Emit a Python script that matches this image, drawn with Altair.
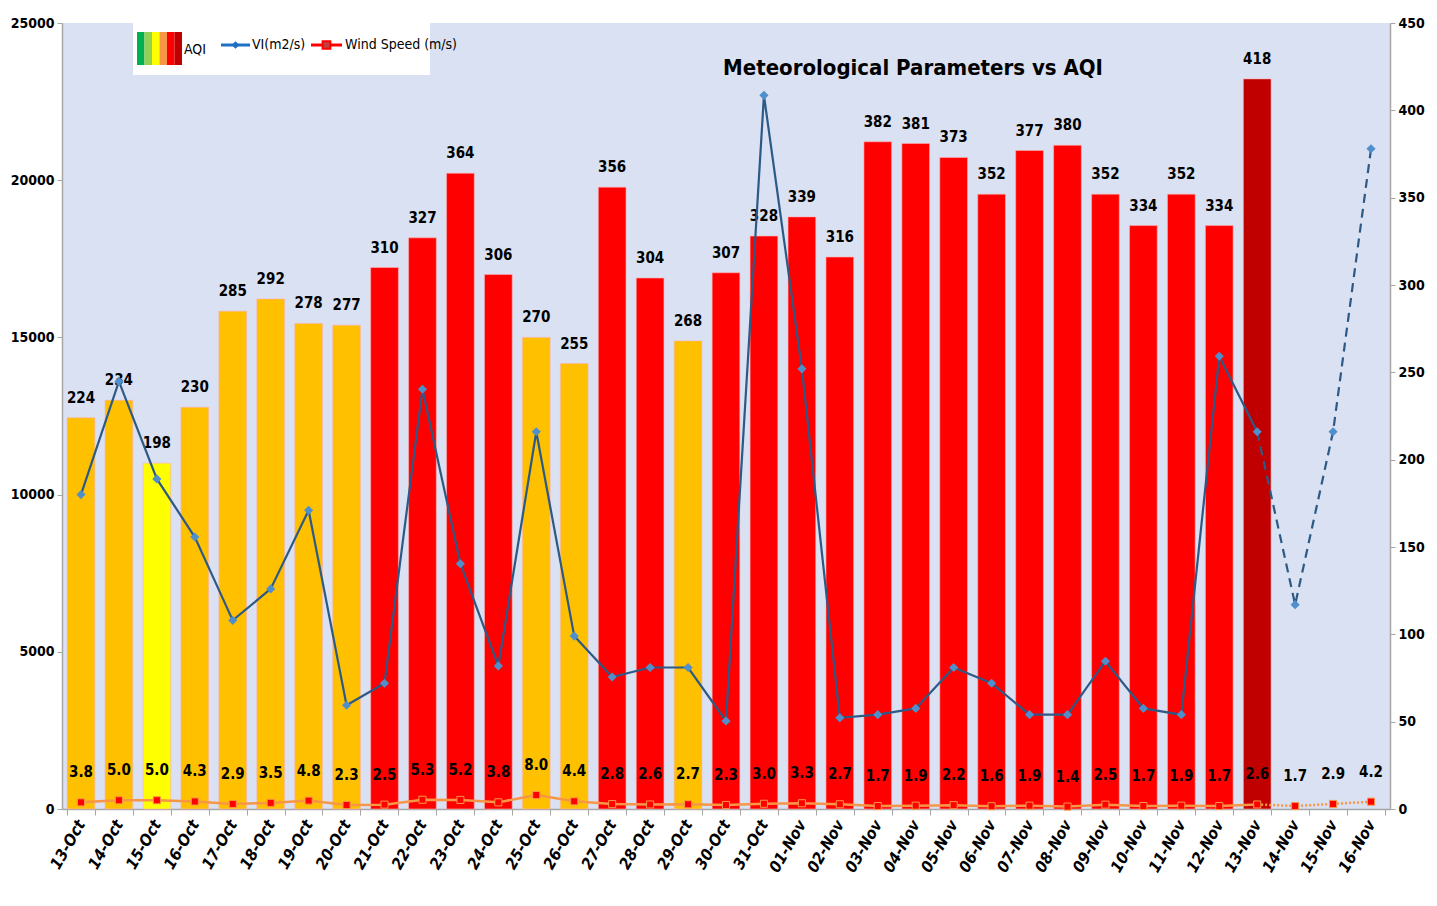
import altair as alt
import pandas as pd

dates = ["13-Oct", "14-Oct", "15-Oct", "16-Oct", "17-Oct", "18-Oct", "19-Oct", "20-Oct",
         "21-Oct", "22-Oct", "23-Oct", "24-Oct", "25-Oct", "26-Oct", "27-Oct", "28-Oct",
         "29-Oct", "30-Oct", "31-Oct", "01-Nov", "02-Nov", "03-Nov", "04-Nov", "05-Nov",
         "06-Nov", "07-Nov", "08-Nov", "09-Nov", "10-Nov", "11-Nov", "12-Nov", "13-Nov",
         "14-Nov", "15-Nov", "16-Nov"]
aqi = [224, 234, 198, 230, 285, 292, 278, 277, 310, 327, 364, 306, 270, 255, 356, 304,
       268, 307, 328, 339, 316, 382, 381, 373, 352, 377, 380, 352, 334, 352, 334, 418]
vi = [10000, 13600, 10500, 8650, 6000, 7000, 9500, 3300, 4000, 13350, 7800, 4550, 12000,
      5500, 4200, 4500, 4500, 2800, 22700, 14000, 2900, 3000, 3200, 4500, 4000, 3000, 3000,
      4700, 3200, 3000, 14400, 12000, 6500, 12000, 21000]
wind = [3.8, 5.0, 5.0, 4.3, 2.9, 3.5, 4.8, 2.3, 2.5, 5.3, 5.2, 3.8, 8.0, 4.4, 2.8, 2.6,
        2.7, 2.3, 3.0, 3.3, 2.7, 1.7, 1.9, 2.2, 1.6, 1.9, 1.4, 2.5, 1.7, 1.9, 1.7, 2.6,
        1.7, 2.9, 4.2]

cat_names = ["Moderate", "Poor", "Very Poor", "Severe"]
cat_colors = ["#FFFF00", "#FFC000", "#FF0000", "#C00000"]
legend_swatch = ["#00B050", "#92D050", "#FFFF00", "#F79646", "#FF0000", "#C00000"]

FONT = "Liberation Sans Narrow, DejaVu Sans Condensed, Arial Narrow, Roboto Condensed, Roboto, sans-serif"
W, H = 1328, 786
n_bar = len(aqi)
n_solid = len(aqi)  # observed part: 13-Oct .. 13-Nov


def category(v):
    if v <= 200:
        return "Moderate"
    if v <= 300:
        return "Poor"
    if v <= 400:
        return "Very Poor"
    return "Severe"


df_bar = pd.DataFrame({"date": dates[:n_bar], "aqi": aqi,
                       "cat": [category(v) for v in aqi]})
df_all = pd.DataFrame({"date": dates, "vi": vi, "wind": wind})
df_solid = df_all.iloc[:n_solid]
df_dash = df_all.iloc[n_solid - 1:]
one = pd.DataFrame({"k": [0]})

x_axis = alt.Axis(title=None, labelAngle=-60, labelAlign="right", labelBaseline="middle",
                  labelFont=FONT, labelFontSize=16, labelFontWeight="bold",
                  labelFontStyle="italic", labelColor="black", labelPadding=6,
                  tickBand="extent", tickColor="#A6A6A6", tickSize=6,
                  domainColor="#A6A6A6", domainWidth=1.5)
x_scale = alt.Scale(domain=dates, paddingInner=0.27, paddingOuter=0.135)


def xe():
    return alt.X("date:N", sort=dates, scale=x_scale, axis=x_axis)


right_axis = alt.Axis(orient="right", title=None, values=list(range(0, 451, 50)), grid=False,
                      format="d", labelFont=FONT, labelFontSize=14, labelFontWeight="bold",
                      labelColor="black", tickColor="#A6A6A6", tickSize=5,
                      domainColor="#A6A6A6", domainWidth=1.5, labelPadding=3)
left_axis = alt.Axis(orient="left", title=None, values=list(range(0, 25001, 5000)), grid=False,
                     format="d", labelFont=FONT, labelFontSize=14, labelFontWeight="bold",
                     labelColor="black", tickColor="#A6A6A6", tickSize=5,
                     domainColor="#A6A6A6", domainWidth=1.5, labelPadding=3)

r_scale = alt.Scale(domain=[0, 450], nice=False)
l_scale = alt.Scale(domain=[0, 25000], nice=False)


def yr(field):
    return alt.Y(field, scale=r_scale, axis=right_axis)


def yl(field):
    return alt.Y(field, scale=l_scale, axis=left_axis)


bars = alt.Chart(df_bar).mark_bar(stroke="#FFB0B0", strokeWidth=0.6).encode(
    x=xe(), y=yr("aqi:Q"),
    color=alt.Color("cat:N", scale=alt.Scale(domain=cat_names, range=cat_colors), legend=None),
)
bar_labels = alt.Chart(df_bar).mark_text(
    font=FONT, fontSize=15, fontWeight="bold", color="black", baseline="bottom", dy=-12
).encode(x=xe(), y=yr("aqi:Q"), text="aqi:Q")

wind_line = alt.Chart(df_solid).mark_line(color="#F79646", strokeWidth=2.5).encode(
    x=xe(), y=yr("wind:Q"))
wind_dash = alt.Chart(df_dash).mark_line(color="#F79646", strokeWidth=2.5,
                                         strokeDash=[2, 2]).encode(
    x=xe(), y=yr("wind:Q"))
wind_pts = alt.Chart(df_all).mark_point(shape="square", filled=True, fill="#FF0000",
                                        stroke="#F79646", strokeWidth=1, size=50,
                                        opacity=1).encode(
    x=xe(), y=yr("wind:Q"))
wind_labels = alt.Chart(df_all).mark_text(
    font=FONT, fontSize=15, fontWeight="bold", color="black", baseline="middle", dy=-30
).encode(x=xe(), y=yr("wind:Q"), text=alt.Text("wind:Q", format=".1f"))

right_group = alt.layer(bars, bar_labels, wind_line, wind_dash, wind_pts, wind_labels)

vi_line = alt.Chart(df_solid).mark_line(color="#2C5985", strokeWidth=2.2).encode(
    x=xe(), y=yl("vi:Q"))
vi_dash = alt.Chart(df_dash).mark_line(color="#2C5985", strokeWidth=2.2,
                                       strokeDash=[9, 6]).encode(
    x=xe(), y=yl("vi:Q"))
vi_pts = alt.Chart(df_all).mark_point(shape="diamond", filled=True, fill="#4F8FCC",
                                      stroke="#4F8FCC", size=40, opacity=1).encode(
    x=xe(), y=yl("vi:Q"))

left_group = alt.layer(vi_line, vi_dash, vi_pts)

# Title inside plot area
title = alt.Chart(one).mark_text(
    text="Meteorological Parameters vs AQI", font=FONT, fontSize=22, fontWeight="bold",
    color="black", align="center", baseline="middle"
).encode(x=alt.value(851), y=alt.value(45))

# Legend box
leg = [alt.Chart(one).mark_rect(color="white").encode(
    x=alt.value(71), x2=alt.value(368), y=alt.value(0), y2=alt.value(52))]
for i, c in enumerate(legend_swatch):
    leg.append(alt.Chart(one).mark_rect(color=c).encode(
        x=alt.value(75 + i * 7.5), x2=alt.value(75 + (i + 1) * 7.5),
        y=alt.value(9), y2=alt.value(42)))
txt_kw = dict(font=FONT, fontSize=14, color="black", align="left", baseline="middle")
leg.append(alt.Chart(one).mark_text(text="AQI", **txt_kw).encode(
    x=alt.value(122), y=alt.value(27)))
leg.append(alt.Chart(one).mark_rule(color="#1F6FC5", strokeWidth=3).encode(
    x=alt.value(159), x2=alt.value(188), y=alt.value(22)))
leg.append(alt.Chart(one).mark_point(shape="diamond", filled=True, color="#1F6FC5",
                                     size=60, opacity=1).encode(
    x=alt.value(173.5), y=alt.value(22)))
leg.append(alt.Chart(one).mark_text(text="VI(m2/s)", **txt_kw).encode(
    x=alt.value(190), y=alt.value(22)))
leg.append(alt.Chart(one).mark_rule(color="#FF0000", strokeWidth=3).encode(
    x=alt.value(249), x2=alt.value(280), y=alt.value(22)))
leg.append(alt.Chart(one).mark_point(shape="square", filled=True, fill="#C04040",
                                     stroke="#FF0000", strokeWidth=2, size=60,
                                     opacity=1).encode(
    x=alt.value(264.5), y=alt.value(22)))
leg.append(alt.Chart(one).mark_text(text="Wind Speed (m/s)", **txt_kw).encode(
    x=alt.value(283), y=alt.value(22)))

chart = alt.layer(right_group, left_group, title, *leg).resolve_scale(
    y="independent"
).properties(
    width=W, height=H,
    padding={"left": 54, "top": 15, "right": 38, "bottom": 80},
    autosize=alt.AutoSizeParams(type="none"),
    background="white",
).configure_view(fill="#D9E1F2", stroke=None)

chart.save("out.html", embed_options={"renderer": "svg", "actions": False})
